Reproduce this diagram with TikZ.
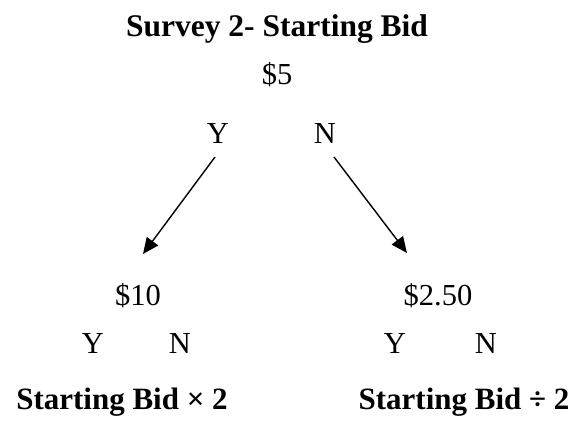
\documentclass[tikz,border=0pt]{standalone}
\usepackage{fontspec}
\setmainfont{Liberation Serif}
\usetikzlibrary{arrows.meta}
\begin{document}
\begin{tikzpicture}[x=1pt,y=-1pt,
  lbl/.style={anchor=base,inner sep=0pt,font=\fontsize{30.5}{33}\selectfont},
  head/.style={anchor=base,inner sep=0pt,font=\fontsize{31.5}{34}\selectfont\bfseries},
  foot/.style={anchor=base,inner sep=0pt,font=\fontsize{31}{33}\selectfont\bfseries},
  branch/.style={line width=1.4pt,-{Triangle[length=16pt,width=14pt]}}]
\useasboundingbox (0,0) rectangle (574,421);
% heading and root bid
\node[head] (title) at (277,36) {Survey 2- Starting Bid};
\node[lbl] (root) at (277,84) {\$5};
\node[lbl] (rY) at (218,143) {Y};
\node[lbl] (rN) at (325,143) {N};
% second-round bids
\node[lbl] (hi) at (138,305) {\$10};
\node[lbl] (hiY) at (93,353) {Y};
\node[lbl] (hiN) at (180,353) {N};
\node[lbl] (lo) at (438,305) {\$2.50};
\node[lbl] (loY) at (395,353) {Y};
\node[lbl] (loN) at (486,353) {N};
% rules under each branch
\node[foot] (ruleHi) at (122,409) {Starting Bid × 2};
\node[foot] (ruleLo) at (464,409) {Starting Bid ÷ 2};
% arrow ends
\coordinate (yStart) at (215,157);
\coordinate (yEnd) at (143,254);
\coordinate (nStart) at (334,157);
\coordinate (nEnd) at (407,253);
\draw[branch] (yStart) -- (yEnd);
\draw[branch] (nStart) -- (nEnd);
\end{tikzpicture}
\end{document}
